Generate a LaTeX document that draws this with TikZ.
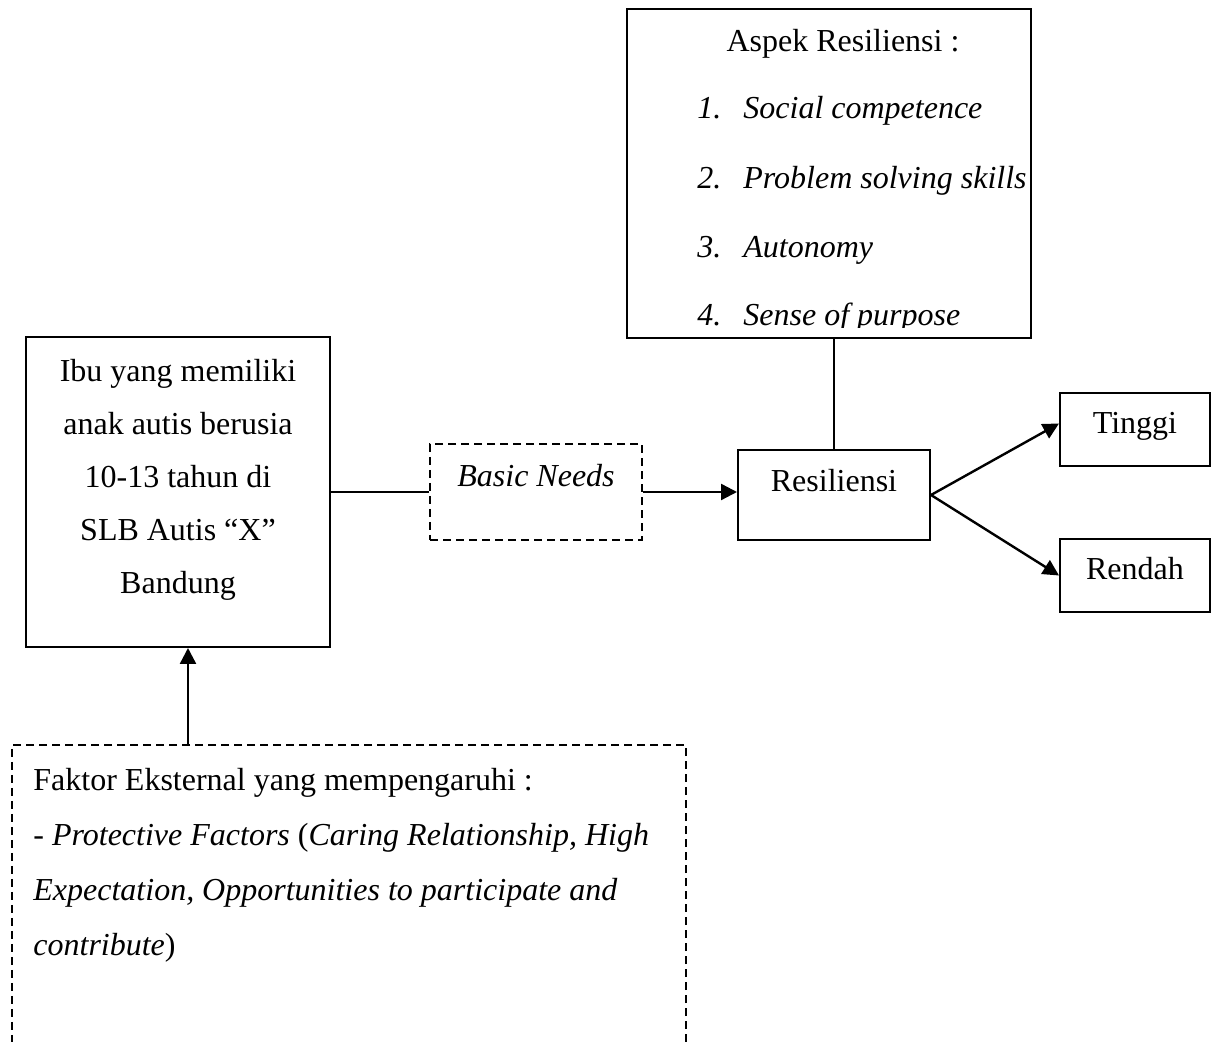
\documentclass[tikz,border=0pt]{standalone}
\usepackage{fontspec}
\setmainfont{Liberation Serif}
\usetikzlibrary{arrows.meta}
\tikzset{
  box/.style={draw=black,line width=1pt,inner sep=0pt},
  dashbox/.style={box,dash pattern=on 4pt off 2.5pt},
  txt/.style={inner sep=0pt,font=\fontsize{16}{26.5}\selectfont},
  arr/.style={-{Triangle[length=8pt,width=8pt]},line width=1.2pt},
  link/.style={line width=0.8pt}
}
\begin{document}
\begin{tikzpicture}[x=0.5pt,y=-0.5pt]
\useasboundingbox (0,0) rectangle (1216,1042);
% boxes
\node[box,minimum width=202pt,minimum height=164.5pt] (aspek) at (829,173.5) {};
\node[box,minimum width=152pt,minimum height=155pt] (ibu) at (178,492) {};
\node[dashbox,minimum width=106pt,minimum height=48pt] (basic) at (536,492) {};
\node[box,minimum width=96pt,minimum height=45pt] (resil) at (834,495) {};
\node[box,minimum width=75pt,minimum height=36.5pt] (tinggi) at (1135,429.5) {};
\node[box,minimum width=75pt,minimum height=36.5pt] (rendah) at (1135,575.5) {};
\node[dashbox,minimum width=337pt,minimum height=162.5pt] (faktor) at (349,907.5) {};
% texts
\node[txt,anchor=base] (aspekT) at (843,52) {Aspek Resiliensi :};
\begin{scope}
  \clip (627,9) rectangle (1031,328);
  \foreach \n/\y/\s in {1/119/Social competence,2/189/Problem solving skills,
                        3/258/Autonomy,4/326/Sense of purpose}{
    \node[txt,anchor=base west] (num\n) at (697,\y) {\textit{\n.}};
    \node[txt,anchor=base west] (item\n) at (743,\y) {\textit{\s}};
  }
\end{scope}
\node[txt,anchor=north,align=center] (ibuT) at (178,359)
  {Ibu yang memiliki\\anak autis berusia\\10-13 tahun di\\SLB Autis ``X''\\Bandung};
\node[txt,anchor=base] (basicT) at (536,487) {\textit{Basic Needs}};
\node[txt,anchor=base] (resilT) at (834,492) {Resiliensi};
\node[txt,anchor=base] (tinggiT) at (1135,434) {Tinggi};
\node[txt,anchor=base] (rendahT) at (1135,580) {Rendah};
\node[txt,anchor=north west,align=left,font=\fontsize{16}{27.5}\selectfont] (faktorT) at (33,768)
  {Faktor Eksternal yang mempengaruhi :\\
   - \textit{Protective Factors} (\textit{Caring Relationship, High}\\
   \textit{Expectation, Opportunities to participate and}\\
   \textit{contribute})};
% connectors
\draw[link] (resil.north) -- (resil.north |- aspek.south);
\draw[link] (ibu.east) -- (basic.west);
\draw[arr] (basic.east) -- (basic.east -| resil.west);
\draw[arr] (resil.east) -- ([yshift=3pt]tinggi.west);
\draw[arr] (resil.east) -- (rendah.west);
\draw[arr] ([xshift=5pt]faktor.north -| ibu.south) -- ([xshift=5pt]ibu.south);
\end{tikzpicture}
\end{document}
